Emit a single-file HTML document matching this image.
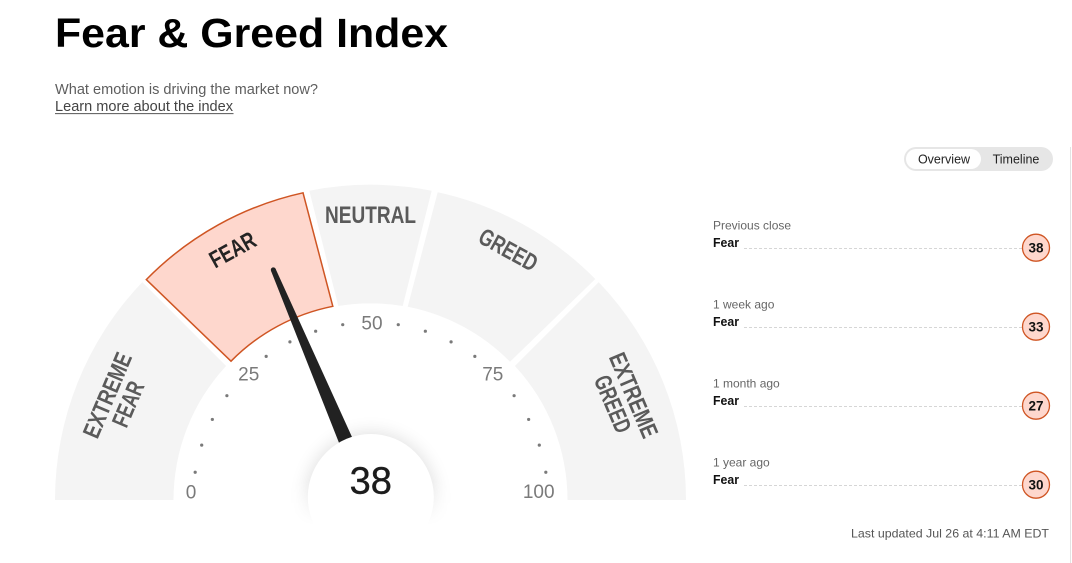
<!DOCTYPE html>
<html>
<head>
<meta charset="utf-8">
<style>
html,body{margin:0;padding:0;background:#fff;}
body{width:1072px;height:563px;overflow:hidden;position:relative;font-family:"Liberation Sans",Arial,sans-serif;}
svg{position:absolute;left:0;top:0;}
</style>
</head>
<body>
<svg width="1072" height="563" viewBox="0 0 1072 563" xmlns="http://www.w3.org/2000/svg" font-family="Liberation Sans, Arial, sans-serif">
  <defs>
    <filter id="blur" x="-50%" y="-50%" width="200%" height="200%">
      <feGaussianBlur stdDeviation="9"/>
    </filter>
    <linearGradient id="fade" x1="0" y1="0" x2="0" y2="1" gradientUnits="objectBoundingBox">
      <stop offset="0" stop-color="#fff"/>
      <stop offset="0.62" stop-color="#fff"/>
      <stop offset="1" stop-color="#000"/>
    </linearGradient>
    <mask id="m" maskUnits="userSpaceOnUse" x="0" y="0" width="1072" height="563">
      <rect x="280" y="410" width="180" height="115" fill="url(#fade)"/>
    </mask>
  </defs>

  <!-- Header -->
  <text x="55" y="47" font-size="41" font-weight="bold" fill="#000" textLength="393" lengthAdjust="spacingAndGlyphs">Fear &amp; Greed Index</text>
  <text x="55" y="94" font-size="14.5" fill="#5e5e5e" textLength="263" lengthAdjust="spacingAndGlyphs">What emotion is driving the market now?</text>
  <text x="55" y="111" font-size="14.5" fill="#444" textLength="178" lengthAdjust="spacingAndGlyphs">Learn more about the index</text>
  <line x1="55" y1="113.6" x2="233.5" y2="113.6" stroke="#555" stroke-width="1"/>

  <!-- Gauge segments -->
  <path d="M 55 500 A 315.5 315.5 0 0 1 142.3 282.1 L 226.1 366 A 197 197 0 0 0 173.5 500 Z" fill="#f4f4f4"/>
  <path d="M 309.3 190.7 A 315.5 315.5 0 0 1 431.7 190.7 L 402.7 306 A 197 197 0 0 0 338.3 306 Z" fill="#f4f4f4"/>
  <path d="M 437.7 192.3 A 315.5 315.5 0 0 1 595.3 279 L 510 361.7 A 197 197 0 0 0 407.7 306.7 Z" fill="#f4f4f4"/>
  <path d="M 598.7 282.1 A 315.5 315.5 0 0 1 686 500 L 567.5 500 A 197 197 0 0 0 514.9 366 Z" fill="#f4f4f4"/>
  <path d="M 146.3 279.6 A 315 315 0 0 1 303 192.8 L 332.8 306.3 A 197 197 0 0 0 231 361.2 Z" fill="#fed7cd" stroke="#cf5523" stroke-width="1.5" stroke-linejoin="miter"/>

  <!-- Segment labels -->
  <g font-weight="bold" font-size="24" fill="#5a5a5a">
    <text x="370.5" y="223" text-anchor="middle" textLength="91" lengthAdjust="spacingAndGlyphs">NEUTRAL</text>
    <g transform="translate(232.5,249.5) rotate(-28.8)">
      <text x="0" y="8.5" text-anchor="middle" textLength="49" lengthAdjust="spacingAndGlyphs" fill="#242424">FEAR</text>
    </g>
    <g transform="translate(508.5,249.5) rotate(28.8)">
      <text x="0" y="8.5" text-anchor="middle" textLength="63" lengthAdjust="spacingAndGlyphs">GREED</text>
    </g>
    <g transform="translate(117.5,399.5) rotate(-67)">
      <text x="0" y="-2.8" text-anchor="middle" textLength="90" lengthAdjust="spacingAndGlyphs">EXTREME</text>
      <text x="0" y="19.8" text-anchor="middle" textLength="47" lengthAdjust="spacingAndGlyphs">FEAR</text>
    </g>
    <g transform="translate(623.5,399.5) rotate(67)">
      <text x="0" y="-2.8" text-anchor="middle" textLength="90" lengthAdjust="spacingAndGlyphs">EXTREME</text>
      <text x="0" y="19.8" text-anchor="middle" textLength="60" lengthAdjust="spacingAndGlyphs">GREED</text>
    </g>
  </g>

  <!-- Tick dots -->
  <g fill="#7a7a7a">
    <circle cx="195.18" cy="472.23" r="1.6"/>
    <circle cx="201.69" cy="445.15" r="1.6"/>
    <circle cx="212.35" cy="419.42" r="1.6"/>
    <circle cx="226.90" cy="395.67" r="1.6"/>
    <circle cx="266.17" cy="356.40" r="1.6"/>
    <circle cx="289.92" cy="341.85" r="1.6"/>
    <circle cx="315.65" cy="331.19" r="1.6"/>
    <circle cx="342.73" cy="324.68" r="1.6"/>
    <circle cx="398.27" cy="324.68" r="1.6"/>
    <circle cx="425.35" cy="331.19" r="1.6"/>
    <circle cx="451.08" cy="341.85" r="1.6"/>
    <circle cx="474.83" cy="356.40" r="1.6"/>
    <circle cx="514.10" cy="395.67" r="1.6"/>
    <circle cx="528.65" cy="419.42" r="1.6"/>
    <circle cx="539.31" cy="445.15" r="1.6"/>
    <circle cx="545.82" cy="472.23" r="1.6"/>
  </g>
  <g font-size="19" fill="#7a7a7a" text-anchor="middle">
    <text x="191" y="498.3">0</text>
    <text x="248.7" y="380.6">25</text>
    <text x="372" y="329.5">50</text>
    <text x="492.8" y="380.7">75</text>
    <text x="538.7" y="497.8">100</text>
  </g>

  <!-- Needle -->
  <polygon points="366.64,469.25 275.62,268.89 271.02,270.85 351.92,475.51" fill="#222"/>
  <circle cx="273.32" cy="269.87" r="2.5" fill="#222"/>

  <!-- Center circle with fading shadow -->
  <g mask="url(#m)">
    <circle cx="370.8" cy="497" r="64" fill="#000" opacity="0.13" filter="url(#blur)"/>
  </g>
  <circle cx="370.8" cy="497" r="63" fill="#fff"/>
  <text x="370.8" y="493.3" font-size="38" fill="#1c1c1c" text-anchor="middle" stroke="#1c1c1c" stroke-width="0.4">38</text>

  <!-- Toggle -->
  <rect x="904" y="147" width="149" height="24" rx="12" fill="#e6e6e6"/>
  <rect x="906" y="149" width="75" height="20" rx="10" fill="#fff"/>
  <text x="944" y="163.3" font-size="12.5" fill="#222" text-anchor="middle">Overview</text>
  <text x="1016" y="163.3" font-size="12.5" fill="#222" text-anchor="middle">Timeline</text>

  <!-- Right divider -->
  <line x1="1070.5" y1="147" x2="1070.5" y2="563" stroke="#e3e3e3" stroke-width="1"/>

  <!-- Rows -->
  <g>
    <text x="713" y="229.3" font-size="12" fill="#666">Previous close</text>
    <text x="713" y="247" font-size="13" font-weight="bold" fill="#111" textLength="26" lengthAdjust="spacingAndGlyphs">Fear</text>
    <line x1="744" y1="248.5" x2="1022" y2="248.5" stroke="#d6d6d6" stroke-width="1" stroke-dasharray="3,2"/>
    <circle cx="1036" cy="247.7" r="13.5" fill="#fed7cd" stroke="#cf5523" stroke-width="1.3"/>
    <text x="1036" y="252.4" font-size="13.5" font-weight="bold" fill="#111" text-anchor="middle">38</text>

    <text x="713" y="308.3" font-size="12" fill="#666">1 week ago</text>
    <text x="713" y="326" font-size="13" font-weight="bold" fill="#111" textLength="26" lengthAdjust="spacingAndGlyphs">Fear</text>
    <line x1="744" y1="327.5" x2="1022" y2="327.5" stroke="#d6d6d6" stroke-width="1" stroke-dasharray="3,2"/>
    <circle cx="1036" cy="326.7" r="13.5" fill="#fed7cd" stroke="#cf5523" stroke-width="1.3"/>
    <text x="1036" y="331.4" font-size="13.5" font-weight="bold" fill="#111" text-anchor="middle">33</text>

    <text x="713" y="387.3" font-size="12" fill="#666">1 month ago</text>
    <text x="713" y="405" font-size="13" font-weight="bold" fill="#111" textLength="26" lengthAdjust="spacingAndGlyphs">Fear</text>
    <line x1="744" y1="406.5" x2="1022" y2="406.5" stroke="#d6d6d6" stroke-width="1" stroke-dasharray="3,2"/>
    <circle cx="1036" cy="405.7" r="13.5" fill="#fed7cd" stroke="#cf5523" stroke-width="1.3"/>
    <text x="1036" y="410.4" font-size="13.5" font-weight="bold" fill="#111" text-anchor="middle">27</text>

    <text x="713" y="466.3" font-size="12" fill="#666">1 year ago</text>
    <text x="713" y="484" font-size="13" font-weight="bold" fill="#111" textLength="26" lengthAdjust="spacingAndGlyphs">Fear</text>
    <line x1="744" y1="485.5" x2="1022" y2="485.5" stroke="#d6d6d6" stroke-width="1" stroke-dasharray="3,2"/>
    <circle cx="1036" cy="484.7" r="13.5" fill="#fed7cd" stroke="#cf5523" stroke-width="1.3"/>
    <text x="1036" y="489.4" font-size="13.5" font-weight="bold" fill="#111" text-anchor="middle">30</text>
  </g>

  <text x="1049" y="537.3" font-size="12" fill="#555" text-anchor="end" textLength="198" lengthAdjust="spacingAndGlyphs">Last updated Jul 26 at 4:11 AM EDT</text>
</svg>
</body>
</html>
